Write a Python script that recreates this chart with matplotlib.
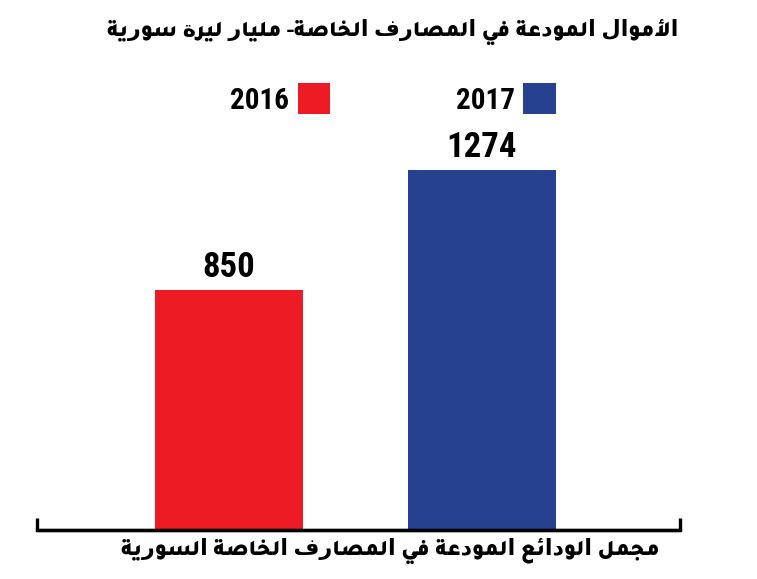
import matplotlib
matplotlib.use('Agg')
import matplotlib.pyplot as plt

years = ['2016', '2017']
values = [850, 1274]
colors = ['#ED1C24', '#26418F']
title = 'الأموال المودعة في المصارف الخاصة- مليار ليرة سورية'
xlabel = 'مجمل الودائع المودعة في المصارف الخاصة السورية'

# matplotlib has no Arabic shaping, so letters are turned into their
# presentation forms by hand and the line is reversed to visual order
FORMS = {  # iso, fin, ini, med
    'ا': ('\uFE8D', '\uFE8E'), 'أ': ('\uFE83', '\uFE84'),
    'د': ('\uFEA9', '\uFEAA'), 'ر': ('\uFEAD', '\uFEAE'),
    'و': ('\uFEED', '\uFEEE'), 'ة': ('\uFE93', '\uFE94'),
    'ج': ('\uFE9D', '\uFE9E', '\uFE9F', '\uFEA0'),
    'خ': ('\uFEA5', '\uFEA6', '\uFEA7', '\uFEA8'),
    'س': ('\uFEB1', '\uFEB2', '\uFEB3', '\uFEB4'),
    'ص': ('\uFEB9', '\uFEBA', '\uFEBB', '\uFEBC'),
    'ع': ('\uFEC9', '\uFECA', '\uFECB', '\uFECC'),
    'ف': ('\uFED1', '\uFED2', '\uFED3', '\uFED4'),
    'ل': ('\uFEDD', '\uFEDE', '\uFEDF', '\uFEE0'),
    'م': ('\uFEE1', '\uFEE2', '\uFEE3', '\uFEE4'),
    'ي': ('\uFEF1', '\uFEF2', '\uFEF3', '\uFEF4'),
    'ئ': ('\uFE89', '\uFE8A', '\uFE8B', '\uFE8C'),
    '\u0001': ('\uFEF7', '\uFEF8'),  # lam + alef with hamza
}


def shape(text):
    s = text.replace('لأ', '\u0001')
    out = []
    for i, ch in enumerate(s):
        if ch not in FORMS:
            out.append(ch)
            continue
        prev = s[i - 1] if i > 0 else ''
        nxt = s[i + 1] if i + 1 < len(s) else ''
        join_prev = prev in FORMS and len(FORMS[prev]) == 4
        join_next = len(FORMS[ch]) == 4 and nxt in FORMS
        f = FORMS[ch]
        if join_prev and join_next:
            out.append(f[3])
        elif join_prev:
            out.append(f[1])
        elif join_next:
            out.append(f[2])
        else:
            out.append(f[0])
    return ''.join(out)[::-1]


num_fam = ['Roboto Condensed', 'Liberation Sans Narrow', 'DejaVu Sans']
ar_fam = ['Tajawal', 'DejaVu Sans']

fig = plt.figure(figsize=(7.57, 5.79), dpi=100)
ax = fig.add_axes([37 / 757, 49 / 579, 643 / 757, 430 / 579])

x = [0, 1]
bars = ax.bar(x, values, width=0.585, color=colors, label=years)
ax.set_xlim(-0.759, 1.783)
ax.set_ylim(0, 1523)

for b, v in zip(bars, values):
    ax.text(b.get_x() + b.get_width() / 2, v + 22, str(v), ha='center',
            va='bottom', fontsize=25, family=num_fam, weight='bold')

for side in ['top', 'left', 'right']:
    ax.spines[side].set_visible(False)
ax.spines['bottom'].set_linewidth(2.4)
ax.plot([0, 0, 1, 1], [0.028, 0, 0, 0.028], transform=ax.transAxes,
        color='black', lw=2.4, clip_on=False, solid_capstyle='butt')
ax.set_xticks([])
ax.set_yticks([])

leg = fig.legend([bars[0], bars[1]], years, loc='center', ncol=2, markerfirst=False,
                 bbox_to_anchor=(393 / 757, 1 - 99 / 579), frameon=False,
                 prop={'family': num_fam, 'weight': 'bold', 'size': 21},
                 handlelength=1.1, handleheight=1.25, handletextpad=0.3,
                 columnspacing=4.3)

fig.text(393 / 757, 1 - 32 / 579, shape(title), ha='center', va='center',
         fontsize=16, fontweight=900, family=ar_fam)
fig.text(390 / 757, 1 - 551 / 579, shape(xlabel), ha='center', va='center',
         fontsize=16, fontweight=900, family=ar_fam)

fig.savefig('out.png', dpi=100)
